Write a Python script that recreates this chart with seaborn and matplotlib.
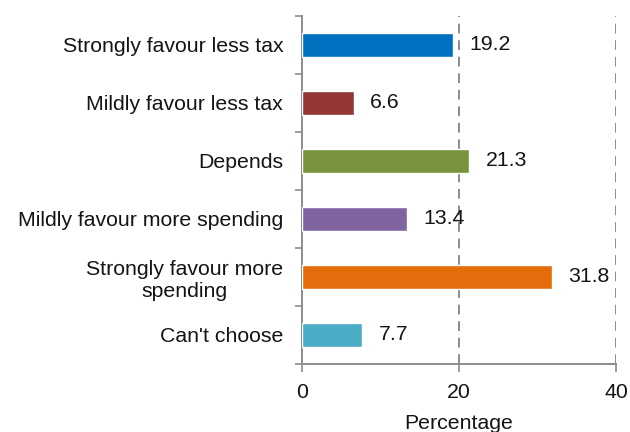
import matplotlib
matplotlib.use("Agg")
import matplotlib.pyplot as plt
import seaborn as sns
import pandas as pd
import numpy as np

categories = [
    "Strongly favour less tax",
    "Mildly favour less tax",
    "Depends",
    "Mildly favour more spending",
    "Strongly favour more\nspending",
    "Can't choose",
]
values = [19.2, 6.6, 21.3, 13.4, 31.8, 7.7]
colors = ["#0070C0", "#943634", "#77933C", "#8064A2", "#E46C0A", "#4BACC6"]
x_ticks = [0, 20, 40]

sns.set_theme(style="white")
plt.rcParams["font.family"] = ["Liberation Sans", "DejaVu Sans"]

FS = 15.3
TXT = "#141414"

df = pd.DataFrame({"category": categories, "value": values})

fig = plt.figure(figsize=(6.3, 4.32), dpi=100)
ax = fig.add_axes([302 / 630, 1 - 364 / 432, (616 - 302) / 630, (364 - 16) / 432])

sns.barplot(data=df, y="category", x="value", hue="category", palette=colors,
            legend=False, width=0.4, saturation=1, ax=ax, zorder=3)

for i, v in enumerate(values):
    ax.text(v + 2.1, i, f"{v:.1f}", va="center", ha="left", fontsize=FS, color=TXT)

ax.set_xlim(0, 40)
ax.set_ylim(len(categories) - 0.5, -0.5)
ax.set_xticks(x_ticks)
ax.set_xticklabels([str(t) for t in x_ticks], fontsize=FS, color=TXT)
ax.set_xlabel("Percentage", fontsize=FS, labelpad=8, color=TXT)
ax.set_ylabel("")

for t in x_ticks[1:]:
    ax.axvline(t, color="#8c8c8c", linestyle=(0, (5, 3.5)), linewidth=1.4, zorder=1)

ax.set_yticks(range(len(categories)))
ax.set_yticklabels(categories, fontsize=FS, ha="right", multialignment="center", color=TXT)
ax.tick_params(axis="y", which="major", left=False, length=0, pad=13.5)
ax.set_yticks(np.arange(-0.5, len(categories), 1.0), minor=True)
ax.tick_params(axis="y", which="minor", left=True, length=5, width=1.2,
               color="#8c8c8c", direction="out")
ax.tick_params(axis="x", which="major", bottom=True, length=6, width=1.2,
               color="#8c8c8c", direction="out", pad=8)

for side in ["top", "right"]:
    ax.spines[side].set_visible(False)
for side in ["left", "bottom"]:
    ax.spines[side].set_color("#8c8c8c")
    ax.spines[side].set_linewidth(1.4)

fig.savefig("out.png", dpi=100)
